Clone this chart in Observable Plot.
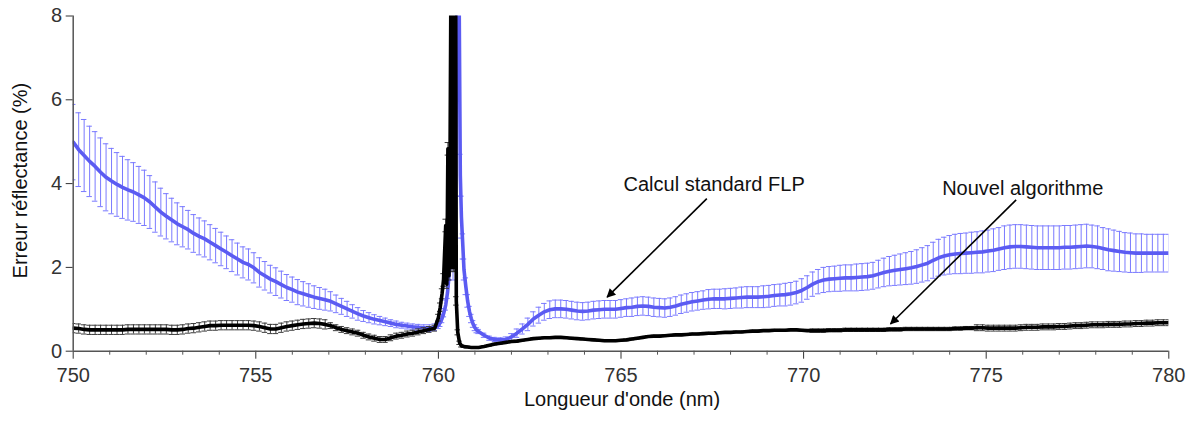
<!DOCTYPE html>
<html>
<head>
<meta charset="utf-8">
<script src="https://cdn.jsdelivr.net/npm/d3@7"></script>
<script src="https://cdn.jsdelivr.net/npm/@observablehq/plot@0.6"></script>
<style>
  html, body { margin: 0; padding: 0; background: #fff; }
  #chart { width: 1192px; height: 421px; }
</style>
</head>
<body>
<div id="chart"></div>
<script>
// ---- Tick labels ----
const xMajorTicks = [750, 755, 760, 765, 770, 775, 780];
const xMinorTicks = [751, 752, 753, 754, 756, 757, 758, 759, 761, 762, 763, 764, 766, 767, 768, 769, 771, 772, 773, 774, 776, 777, 778, 779];
const yTicks = [0, 2, 4, 6, 8];
const xTitle = "Longueur d'onde (nm)";
const yTitle = "Erreur réflectance (%)";

// ---- Sampling grid (nm) ----
const gridA = d3.range(0, 67).map(i => +(750 + 0.15 * i).toFixed(2));    // 750.00 … 759.90
const gridC = d3.range(0, 127).map(j => +(761.1 + 0.15 * j).toFixed(2)); // 761.10 … 780.00

// ---- "Calcul standard FLP" (blue) ----
const blueValA = [4.99,4.81,4.67,4.53,4.41,4.27,4.15,4.06,3.98,3.91,
  3.85,3.80,3.73,3.66,3.56,3.44,3.32,3.22,3.13,3.04,
  2.97,2.90,2.81,2.74,2.68,2.60,2.52,2.44,2.36,2.28,
  2.20,2.12,2.07,1.99,1.88,1.80,1.72,1.66,1.59,1.52,
  1.47,1.41,1.37,1.33,1.29,1.26,1.23,1.19,1.13,1.07,
  1.01,0.95,0.89,0.84,0.80,0.76,0.73,0.70,0.67,0.64,
  0.62,0.60,0.58,0.57,0.56,0.55,0.57];
const blueErrA = [0.90,0.88,0.86,0.84,0.83,0.82,0.80,0.78,0.76,0.74,
  0.72,0.70,0.68,0.66,0.63,0.60,0.57,0.54,0.52,0.50,
  0.48,0.46,0.45,0.44,0.43,0.42,0.41,0.40,0.39,0.38,
  0.38,0.37,0.37,0.36,0.35,0.34,0.33,0.33,0.32,0.31,
  0.30,0.30,0.29,0.28,0.27,0.26,0.25,0.23,0.21,0.19,
  0.18,0.16,0.15,0.13,0.12,0.11,0.10,0.09,0.08,0.08,
  0.07,0.07,0.07,0.07,0.07,0.08,0.08];
const bluePeakWl  = [760.00,760.05,760.10,760.15,760.20,760.25,760.30,760.35,760.40,760.46,760.52,760.56,760.60,760.63,760.67,760.70,760.75,760.80,760.85,760.90,760.95,761.00,761.05];
const bluePeakVal = [0.62,0.68,0.78,0.92,1.10,1.40,1.90,2.72,2.00,3.00,9.50,9.50,4.20,3.20,2.50,1.95,1.55,1.20,0.95,0.78,0.65,0.56,0.50];
const bluePeakErr = [0.08,0.09,0.10,0.10,0.12,0.14,0.20,0.30,0.30,0.40,0.50,0.50,0.50,0.50,0.30,0.25,0.20,0.15,0.12,0.10,0.08,0.07,0.06];
const blueValC = [0.47,0.38,0.31,0.28,0.27,0.28,0.34,0.43,0.53,0.64,
  0.77,0.86,0.94,0.99,1.01,1.01,1.00,0.98,0.96,0.95,
  0.96,0.98,0.99,1.00,1.00,1.00,1.02,1.04,1.05,1.07,
  1.08,1.07,1.05,1.04,1.03,1.05,1.08,1.12,1.15,1.18,
  1.20,1.22,1.24,1.25,1.25,1.25,1.26,1.27,1.28,1.29,
  1.29,1.29,1.30,1.31,1.33,1.34,1.35,1.37,1.40,1.45,
  1.52,1.60,1.66,1.70,1.72,1.73,1.74,1.75,1.75,1.76,
  1.77,1.78,1.80,1.84,1.88,1.91,1.93,1.95,1.97,1.99,
  2.02,2.06,2.10,2.17,2.23,2.27,2.30,2.32,2.33,2.34,
  2.35,2.36,2.37,2.39,2.41,2.44,2.47,2.49,2.50,2.50,
  2.49,2.48,2.47,2.47,2.47,2.47,2.47,2.48,2.48,2.49,
  2.50,2.51,2.50,2.48,2.45,2.42,2.40,2.38,2.36,2.35,
  2.34,2.34,2.34,2.34,2.34,2.34,2.34];
const blueErrC = [0.05,0.05,0.05,0.05,0.05,0.06,
  0.08,0.10,0.12,0.15,0.17,0.19,0.20,0.21,
  0.21,0.21,0.21,0.21,0.21,0.21,0.21,0.21,0.21,0.21,0.21,0.21,0.21,0.21,0.22,0.22,0.22,0.22,0.22,0.22,0.22,0.22,0.22,0.22,0.22,0.22,
  0.22,0.22,0.23,0.23,0.23,0.24,0.24,0.24,0.25,0.25,0.25,0.25,0.26,0.26,0.26,0.26,0.27,0.27,0.27,
  0.28,0.28,0.29,0.29,0.30,0.30,0.30,0.31,0.31,0.31,0.32,0.32,0.32,0.32,
  0.33,0.34,0.35,0.36,0.37,0.38,0.39,0.40,0.41,0.42,0.43,0.44,0.45,0.46,
  0.47,0.48,0.48,0.49,0.49,0.50,0.50,0.51,0.51,0.52,
  0.52,0.52,0.52,0.52,0.52,0.52,0.52,0.52,0.52,0.52,
  0.52,0.52,0.52,0.52,0.52,0.51,0.51,0.50,0.50,0.49,
  0.48,0.47,0.47,0.46,0.46,0.45,0.45,0.45,0.45,0.45];

// ---- "Nouvel algorithme" (black) ----
const blackValA = [0.55,0.54,0.52,0.51,0.51,0.51,0.51,0.51,0.51,0.51,
  0.52,0.52,0.52,0.52,0.52,0.52,0.52,0.52,0.51,0.51,
  0.52,0.54,0.55,0.57,0.59,0.61,0.61,0.62,0.62,0.62,
  0.62,0.62,0.62,0.61,0.59,0.56,0.53,0.53,0.56,0.59,
  0.61,0.63,0.65,0.66,0.67,0.66,0.64,0.61,0.56,0.52,
  0.49,0.46,0.43,0.38,0.34,0.31,0.28,0.28,0.32,0.36,
  0.38,0.41,0.43,0.46,0.49,0.52,0.55];
const blackErrA = [0.11,0.11,0.11,0.11,0.11,0.11,0.11,0.11,0.11,0.11,
  0.11,0.11,0.11,0.11,0.11,0.11,0.11,0.11,0.11,0.11,
  0.11,0.11,0.11,0.11,0.11,0.11,0.11,0.11,0.11,0.11,
  0.11,0.11,0.11,0.11,0.11,0.11,0.11,0.11,0.11,0.11,
  0.11,0.11,0.11,0.11,0.11,0.11,0.11,0.07,0.07,0.07,
  0.07,0.07,0.07,0.07,0.07,0.07,0.07,0.07,0.07,0.07,
  0.07,0.07,0.07,0.07,0.07,0.07,0.07];
const blackPeakWl  = [760.00,760.05,760.10,760.14,760.20,760.23,760.26,760.29,760.32,760.35,760.37,760.39,760.41,760.43,760.45,760.47,760.49,760.53,760.58,760.63,760.70,760.80,760.90,761.00];
const blackPeakVal = [0.80,1.05,1.37,1.70,3.00,1.60,4.83,1.80,4.83,10.0,2.00,10.0,2.00,10.0,2.00,10.0,1.20,0.45,0.20,0.13,0.11,0.10,0.09,0.09];
const blackPeakErr = [0.08,0.10,0.12,0.15,0.15,0.10,0.15,0.10,0.15,0.20,0.10,0.20,0.10,0.20,0.10,0.20,0.10,0.06,0.04,0.03,0.02,0.02,0.02,0.02];
const blackValC = [0.09,0.11,0.14,0.17,0.19,0.21,0.23,0.24,0.26,0.28,
  0.30,0.31,0.32,0.32,0.33,0.33,0.32,0.31,0.30,0.29,
  0.28,0.27,0.26,0.25,0.25,0.25,0.26,0.27,0.29,0.31,
  0.33,0.35,0.36,0.36,0.37,0.38,0.39,0.39,0.40,0.41,
  0.41,0.42,0.43,0.43,0.44,0.45,0.45,0.46,0.46,0.47,
  0.48,0.48,0.49,0.49,0.50,0.50,0.50,0.51,0.51,0.50,
  0.49,0.49,0.49,0.49,0.50,0.50,0.50,0.51,0.51,0.51,
  0.51,0.51,0.51,0.51,0.51,0.52,0.52,0.52,0.53,0.53,
  0.53,0.53,0.53,0.53,0.53,0.53,0.53,0.54,0.54,0.55,
  0.55,0.56,0.56,0.55,0.55,0.55,0.55,0.55,0.55,0.56,
  0.57,0.57,0.57,0.58,0.58,0.58,0.59,0.59,0.60,0.61,
  0.61,0.62,0.63,0.63,0.63,0.64,0.64,0.64,0.65,0.65,
  0.66,0.66,0.67,0.67,0.68,0.68,0.68];
const blackErrC = [0.02,0.02,0.02,0.02,0.02,0.02,0.02,0.02,0.02,0.02,
  0.02,0.02,0.02,0.02,0.02,0.02,0.02,0.02,0.02,0.02,
  0.02,0.02,0.02,0.02,0.02,0.02,0.02,0.02,0.02,0.02,
  0.02,0.02,0.02,0.02,0.02,0.02,0.02,0.02,0.02,0.02,
  0.02,0.02,0.02,0.02,0.02,0.02,0.02,0.02,0.02,0.02,
  0.02,0.02,0.02,0.02,0.02,0.02,0.02,0.02,0.02,0.02,
  0.02,0.04,0.04,0.04,0.04,0.04,0.04,0.04,0.04,0.04,
  0.04,0.04,0.04,0.04,0.04,0.04,0.04,0.04,0.04,0.04,
  0.04,0.04,0.04,0.04,0.04,0.04,0.04,0.04,0.04,0.04,
  0.04,0.07,0.07,0.07,0.07,0.07,0.07,0.07,0.07,0.07,
  0.07,0.07,0.07,0.07,0.07,0.07,0.07,0.07,0.07,0.07,
  0.07,0.07,0.07,0.07,0.07,0.07,0.07,0.07,0.07,0.07,
  0.07,0.07,0.07,0.07,0.07,0.07,0.07];

// ---- Annotations ----
const noteLabels = ["Calcul standard FLP", "Nouvel algorithme"];
const noteX = [767.55, 776.0];
const noteY = [3.97, 3.885];
const arrowX1 = [767.35, 775.82];
const arrowY1 = [3.64, 3.61];
const arrowX2 = [764.62, 772.38];
const arrowY2 = [1.29, 0.65];

// ---- Build tables ----
function table(wl, val, err) { return wl.map((w, i) => ({wl: w, v: val[i], e: err[i]})); }
const blue = table(gridA.concat(bluePeakWl, gridC), blueValA.concat(bluePeakVal, blueValC), blueErrA.concat(bluePeakErr, blueErrC));
const black = table(gridA.concat(blackPeakWl, gridC), blackValA.concat(blackPeakVal, blackValC), blackErrA.concat(blackPeakErr, blackErrC));
const notes = noteLabels.map((t, i) => ({label: t, x: noteX[i], y: noteY[i]}));
const arrows = noteLabels.map((t, i) => ({x1: arrowX1[i], y1: arrowY1[i], x2: arrowX2[i], y2: arrowY2[i]}));

const capHalf = 0.075;
const blueLine = "#5b5bf2", blueBar = "#7a7aff", blackBar = "#3a3a3a";

function errorMarks(data, color, width) {
  return [
    Plot.ruleX(data, {x: "wl", y1: d => d.v - d.e, y2: d => d.v + d.e, stroke: color, strokeWidth: width, clip: true}),
    Plot.ruleY(data, {y: d => d.v + d.e, x1: d => d.wl - capHalf, x2: d => d.wl + capHalf, stroke: color, strokeWidth: width, clip: true}),
    Plot.ruleY(data, {y: d => d.v - d.e, x1: d => d.wl - capHalf, x2: d => d.wl + capHalf, stroke: color, strokeWidth: width, clip: true})
  ];
}

const chart = Plot.plot({
  width: 1192,
  height: 421,
  marginLeft: 72.7,
  marginRight: 23.7,
  marginTop: 15.5,
  marginBottom: 70.3,
  style: {fontFamily: "'Liberation Sans', Arial, sans-serif", fontSize: "20px", color: "#222", background: "#fff", overflow: "visible"},
  x: {domain: [750, 780]},
  y: {domain: [0, 8]},
  marks: [
    ...errorMarks(blue, blueBar, 1),
    Plot.line(blue, {x: "wl", y: "v", stroke: blueLine, strokeWidth: 3.6, clip: true}),
    ...errorMarks(black, blackBar, 1),
    Plot.line(black, {x: "wl", y: "v", stroke: "#000", strokeWidth: 3.6, clip: true}),
    // axes
    Plot.axisX({ticks: xMinorTicks, tickSize: 4, tickFormat: () => "", label: null, color: "#555"}),
    Plot.axisX({ticks: xMajorTicks, tickSize: 8, tickPadding: 9, fontSize: 20, label: null, color: "#333"}),
    Plot.axisY({ticks: yTicks, tickSize: 7, tickPadding: 4, fontSize: 20, label: null, color: "#333"}),
    Plot.ruleY([0], {stroke: "#555", strokeWidth: 1.5}),
    Plot.ruleX([750], {stroke: "#555", strokeWidth: 1.5}),
    Plot.text([xTitle], {frameAnchor: "bottom", textAnchor: "middle", dy: 54.6, dx: 1, fontSize: 20, fill: "#111"}),
    Plot.text([yTitle], {frameAnchor: "left", textAnchor: "middle", rotate: -90, dx: -53, dy: -3, fontSize: 20, fill: "#111"}),
    // annotations
    Plot.link(arrows, {x1: "x1", y1: "y1", x2: "x2", y2: "y2", stroke: "#000", strokeWidth: 1.6}),
    Plot.text(notes, {x: "x", y: "y", text: "label", fontSize: 20, fill: "#111"})
  ]
});

// filled arrowheads for the annotation links
const svgNS = "http://www.w3.org/2000/svg";
const svg = chart.tagName.toLowerCase() === "svg" ? chart : chart.querySelector("svg");
const defs = document.createElementNS(svgNS, "defs");
const marker = document.createElementNS(svgNS, "marker");
marker.setAttribute("id", "filledArrowHead");
marker.setAttribute("viewBox", "0 0 10 10");
marker.setAttribute("refX", "9");
marker.setAttribute("refY", "5");
marker.setAttribute("markerWidth", "14");
marker.setAttribute("markerHeight", "9");
marker.setAttribute("markerUnits", "userSpaceOnUse");
marker.setAttribute("orient", "auto");
const head = document.createElementNS(svgNS, "path");
head.setAttribute("d", "M0,0L10,5L0,10z");
head.setAttribute("fill", "#000");
marker.appendChild(head);
defs.appendChild(marker);
svg.insertBefore(defs, svg.firstChild);
svg.querySelectorAll('g[aria-label="link"] path').forEach(p => p.setAttribute("marker-end", "url(#filledArrowHead)"));

document.getElementById("chart").appendChild(chart);
</script>
</body>
</html>
